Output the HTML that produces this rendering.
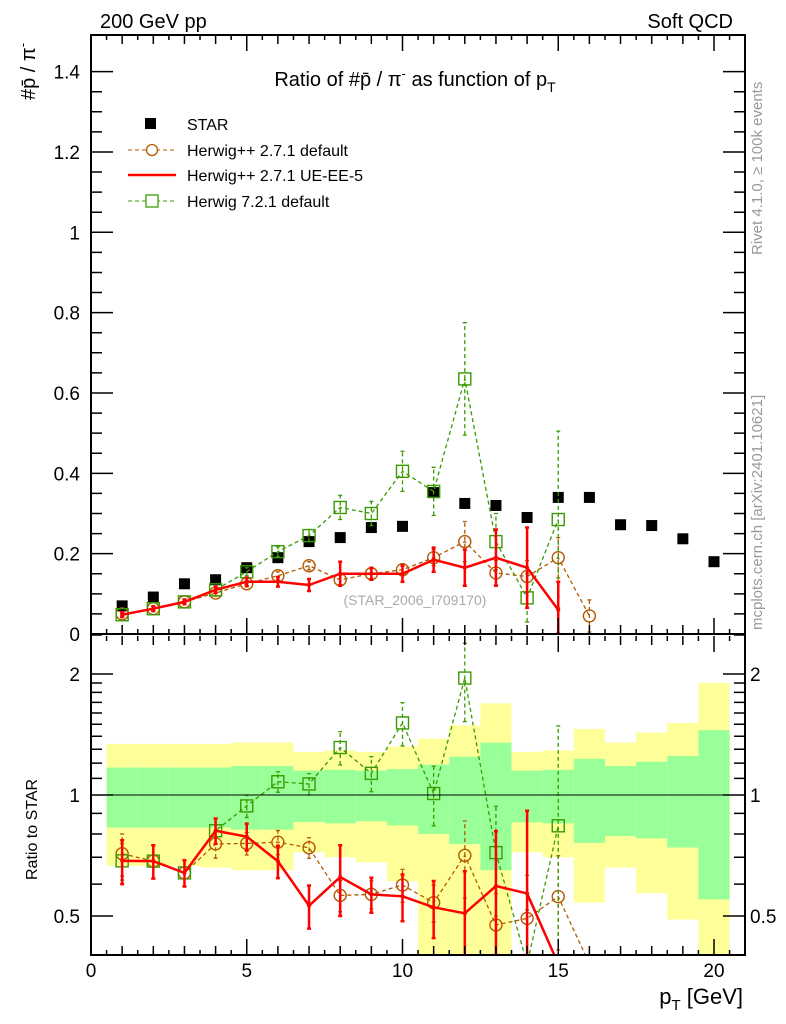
<!DOCTYPE html>
<html><head><meta charset="utf-8"><style>
html,body{margin:0;padding:0;background:#fff;overflow:hidden;width:786px;height:1024px}
svg{font-family:"Liberation Sans",sans-serif;display:block}
</style></head><body>
<svg id="c" width="786" height="1024" viewBox="0 0 786 1024" xmlns="http://www.w3.org/2000/svg">
<defs>
<clipPath id="cm"><rect x="91" y="35" width="654" height="599"/></clipPath>
<clipPath id="cr"><rect x="91" y="635" width="654" height="320"/></clipPath>
</defs>
<g id="bands" clip-path="url(#cr)"></g>
<g id="marks"></g>
<text x="100" y="28" font-size="20">200 GeV pp</text>
<text x="733" y="28" font-size="20" text-anchor="end">Soft QCD</text>
<text x="415" y="86" font-size="20" text-anchor="middle">Ratio of #p̄ / π<tspan dy="-8" font-size="13">-</tspan><tspan dy="8"> as function of p</tspan><tspan dy="6" font-size="14">T</tspan></text>
<text transform="translate(35,100) rotate(-90)" font-size="20">#p̄ / π<tspan dy="-8" font-size="13">-</tspan></text>
<text transform="translate(37,880) rotate(-90)" font-size="16">Ratio to STAR</text>
<text x="743" y="1004" font-size="22" text-anchor="end">p<tspan dy="6" font-size="15">T</tspan><tspan dy="-6"> [GeV]</tspan></text>
<text transform="translate(762,255) rotate(-90)" font-size="15" fill="#999">Rivet 4.1.0, ≥ 100k events</text>
<text transform="translate(762,630) rotate(-90)" font-size="15" fill="#999">mcplots.cern.ch [arXiv:2401.10621]</text>
<text x="415" y="605" font-size="14" fill="#aaa" text-anchor="middle">(STAR_2006_I709170)</text>
<g>
<rect x="145" y="118" width="11" height="11" fill="#000"/>
<text x="187" y="130" font-size="16">STAR</text>
<line x1="128" y1="150" x2="176" y2="150" stroke="#b35900" stroke-dasharray="4,3"/>
<circle cx="152" cy="150" r="5.5" fill="#fff" stroke="#b35900" stroke-width="1.3"/>
<text x="187" y="156" font-size="16">Herwig++ 2.7.1 default</text>
<line x1="128" y1="175" x2="176" y2="175" stroke="#f00" stroke-width="2.5"/>
<text x="187" y="181" font-size="16">Herwig++ 2.7.1 UE-EE-5</text>
<line x1="128" y1="201" x2="176" y2="201" stroke="#3a9a00" stroke-dasharray="4,3"/>
<rect x="146" y="195" width="12" height="12" fill="#fff" stroke="#3a9a00" stroke-width="1.3"/>
<text x="187" y="207" font-size="16">Herwig 7.2.1 default</text>
</g>
<g id="axes"></g>
</svg>
<script>
const pts=[1,2,3,4,5,6,7,8,9,10,11,12,13,14,15,16,17,18,19,20];
const star=[0.07,0.092,0.125,0.135,0.165,0.19,0.23,0.24,0.265,0.268,0.352,0.325,0.32,0.29,0.34,0.34,0.272,0.27,0.237,0.18];
const hppDef=[0.05,0.063,0.08,0.102,0.125,0.145,0.17,0.135,0.15,0.16,0.19,0.23,0.152,0.143,0.19,0.045];
const hppDefErr=[0.006,0.006,0.006,0.008,0.008,0.01,0.01,0.012,0.012,0.015,0.02,0.05,0.03,0.04,0.05,0.04];
const ueee5=[0.048,0.063,0.08,0.11,0.13,0.13,0.122,0.15,0.15,0.15,0.185,0.165,0.19,0.165,0.06];
const ueee5Err=[0.006,0.006,0.006,0.008,0.01,0.012,0.015,0.03,0.015,0.02,0.03,0.045,0.07,0.1,0.07];
const h7Def=[0.048,0.063,0.08,0.11,0.155,0.205,0.245,0.315,0.3,0.405,0.355,0.635,0.23,0.09,0.285];
const h7DefErr=[0.005,0.006,0.006,0.008,0.01,0.012,0.015,0.03,0.03,0.05,0.06,0.14,0.07,0.06,0.22];
const bandTot=[[0.666,1.34],[0.666,1.34],[0.666,1.34],[0.66,1.34],[0.65,1.35],[0.65,1.35],[0.72,1.28],[0.70,1.29],[0.68,1.28],[0.61,1.32],[0.38,1.38],[0.38,1.49],[0.38,1.69],[0.72,1.28],[0.70,1.29],[0.54,1.46],[0.66,1.35],[0.57,1.43],[0.49,1.51],[0.38,1.9]];
const bandStat=[[0.83,1.17],[0.83,1.17],[0.83,1.17],[0.83,1.17],[0.82,1.18],[0.82,1.18],[0.857,1.15],[0.85,1.155],[0.86,1.15],[0.84,1.16],[0.80,1.19],[0.755,1.245],[0.65,1.35],[0.855,1.15],[0.85,1.155],[0.76,1.23],[0.79,1.18],[0.78,1.21],[0.74,1.25],[0.55,1.45]];
const xTicks=[0,5,10,15,20];
const yTicks=[0,0.2,0.4,0.6,0.8,1,1.2,1.4];
const rTicks=[0.5,1,2];

const NS="http://www.w3.org/2000/svg";
const X=v=>91+v*31.15;
const Y=v=>634-v*401.7;
const RMIN=0.38;
const R=r=>795-Math.log2(Math.max(r,RMIN))*121;
function mk(t,a,p){const e=document.createElementNS(NS,t);for(const k in a)e.setAttribute(k,a[k]);(p||document.getElementById('marks')).appendChild(e);return e;}
const bands=document.getElementById('bands');
pts.forEach((p,i)=>{
 const e=mk('rect',{x:X(p-0.5),width:31.15,y:R(bandTot[i][1]),height:R(bandTot[i][0])-R(bandTot[i][1]),fill:'#ffff99'},bands);
 
 
 const s=mk('rect',{x:X(p-0.5),width:31.15,y:R(bandStat[i][1]),height:R(bandStat[i][0])-R(bandStat[i][1]),fill:'#99ff99'},bands);
 
 
});
const ax=document.getElementById('axes');
const one=mk('line',{x1:91,x2:745,y1:R(1),y2:R(1),stroke:'#000'},ax);


function series(name,vals,errs,color,marker,dash,width){
 const panels=[{clip:'cm',f:(v,i)=>Y(v)},{clip:'cr',f:(v,i)=>R(v/star[i])}];
 panels.forEach(pn=>{
  const g=mk('g',{'clip-path':'url(#'+pn.clip+')'});
  
  
  let d='';
  vals.forEach((v,i)=>{d+=(i?'L':'M')+X(pts[i])+','+pn.f(v,i);});
  const l=mk('path',{d:d,fill:'none',stroke:color,'stroke-width':width,'stroke-dasharray':dash||'none'},g);
  
  
  vals.forEach((v,i)=>{
   const x=X(pts[i]);
   const sc=pn.clip==='cm'?1:1/star[i];
   const lo=Math.max(v-errs[i],0.001)*sc, hi=(v+errs[i])*sc;
   const y1=pn.clip==='cm'?Y(lo):R(lo), y2=pn.clip==='cm'?Y(hi):R(hi);
   const eb=mk('path',{d:`M${x},${y1}L${x},${y2}M${x-2},${y1}L${x+2},${y1}M${x-2},${y2}L${x+2},${y2}`,stroke:color,'stroke-width':marker==='none'?2.5:1.3,'stroke-dasharray':dash||'none',fill:'none'},g);
   
   
   const y=pn.f(v,i);
   let m;
   if(marker==='circle')m=mk('circle',{cx:x,cy:y,r:6,fill:'none',stroke:color,'stroke-width':1.4},g);
   else if(marker==='square')m=mk('rect',{x:x-6,y:y-6,width:12,height:12,fill:'none',stroke:color,'stroke-width':1.4},g);
   else m=mk('circle',{cx:x,cy:y,r:2,fill:color},g);
   
   
  });
 });
}
const sg=mk('g',{'clip-path':'url(#cm)'});


star.forEach((v,i)=>{
 const r=mk('rect',{x:X(pts[i])-5.5,y:Y(v)-5.5,width:11,height:11,fill:'#000'},sg);
 
 
});
series('herwigpp-default',hppDef,hppDefErr,'#b35900','circle','4,3',1.3);
series('herwig7-default',h7Def,h7DefErr,'#3a9a00','square','4,3',1.3);
series('herwigpp-ueee5',ueee5,ueee5Err,'#f00','none',null,2.5);
const f1=mk('rect',{x:91,y:35,width:654,height:599,fill:'none',stroke:'#000','stroke-width':2},ax);

const f2=mk('rect',{x:91,y:634,width:654,height:321,fill:'none',stroke:'#000','stroke-width':2},ax);

let td='';
for(let v=0;v<=21;v+=0.5){const x=X(v);const L=(v%5===0)?16:(v%1===0?9:5);
 td+=`M${x},634L${x},${634-L}M${x},35L${x},${35+L}M${x},955L${x},${955-L}M${x},636L${x},${636+L}`;}
for(let v=0;v<=1.45;v+=0.05){const y=Y(v);const L=(Math.round(v*100)%20===0)?22:11;td+=`M91,${y}L${91+L},${y}M745,${y}L${745-L},${y}`;}
[0.4,0.5,0.6,0.7,0.8,0.9,1,1.1,1.2,1.3,1.4,1.5,1.6,1.7,1.8,1.9,2,2.5].forEach(r=>{const y=R(r);const L=[0.5,1,2].includes(r)?22:11;td+=`M91,${y}L${91+L},${y}M745,${y}L${745-L},${y}`;});
const tk=mk('path',{d:td,stroke:'#000','stroke-width':1.5,fill:'none'},ax);

xTicks.forEach(v=>{const t=mk('text',{x:X(v),y:977,'font-size':19,'text-anchor':'middle'},ax);t.textContent=v;
 });
yTicks.forEach(v=>{const t=mk('text',{x:80,y:Y(v)+7,'font-size':19,'text-anchor':'end'},ax);t.textContent=v;
 });
rTicks.forEach(v=>{const t=mk('text',{x:80,y:R(v)+7,'font-size':19,'text-anchor':'end'},ax);t.textContent=v;
 
 const t2=mk('text',{x:750,y:R(v)+7,'font-size':19},ax);t2.textContent=v;
 });
</script>
</body></html>
